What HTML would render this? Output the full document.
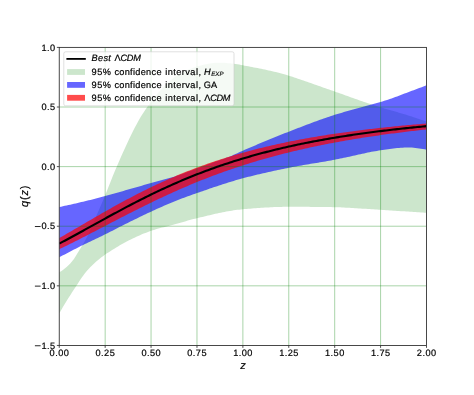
<!DOCTYPE html>
<html><head><meta charset="utf-8"><title>q(z)</title>
<style>html,body{margin:0;padding:0;background:#fff;}body{width:474px;height:395px;overflow:hidden;position:relative;}</style>
</head><body>
<svg width="474" height="395" viewBox="0 0 474 395" style="display:block;font-family:'Liberation Sans',sans-serif">
<rect width="474" height="395" fill="#fff"/>
<defs><clipPath id="ax"><rect x="59.25" y="47.4" width="367.25" height="298.05"/></clipPath></defs>
<g clip-path="url(#ax)">
<path d="M59.25,272.25 L61.09,271.22 L62.92,270.01 L64.76,268.61 L66.59,267.02 L68.43,265.28 L70.27,263.42 L72.10,261.35 L73.94,258.94 L75.78,256.05 L77.61,252.99 L79.45,250.07 L81.28,247.11 L83.12,244.00 L84.96,240.81 L86.79,237.44 L88.63,233.81 L90.47,229.83 L92.30,225.60 L94.14,221.23 L95.97,216.86 L97.81,212.58 L99.65,208.31 L101.48,204.01 L103.32,199.66 L105.16,195.24 L106.99,190.70 L108.83,186.07 L110.67,181.41 L112.50,176.78 L114.34,172.26 L116.17,167.89 L118.01,163.68 L119.85,159.50 L121.68,155.35 L123.52,151.24 L125.36,147.18 L127.19,143.19 L129.03,139.28 L130.86,135.45 L132.70,131.73 L134.54,128.12 L136.37,124.64 L138.21,121.30 L140.05,118.11 L141.88,115.08 L143.72,112.19 L145.55,109.43 L147.39,106.77 L149.23,104.20 L151.06,101.71 L152.90,99.29 L154.74,96.95 L156.57,94.69 L158.41,92.52 L160.24,90.44 L162.08,88.43 L163.92,86.49 L165.75,84.62 L167.59,82.85 L169.43,81.20 L171.26,79.67 L173.10,78.20 L174.93,76.80 L176.77,75.50 L178.61,74.32 L180.44,73.27 L182.28,72.33 L184.12,71.44 L185.95,70.61 L187.79,69.82 L189.62,69.09 L191.46,68.40 L193.30,67.76 L195.13,67.16 L196.97,66.61 L198.81,66.07 L200.64,65.55 L202.48,65.06 L204.31,64.60 L206.15,64.19 L207.99,63.82 L209.82,63.52 L211.66,63.29 L213.50,63.06 L215.33,62.87 L217.17,62.72 L219.00,62.66 L220.84,62.68 L222.68,62.75 L224.51,62.85 L226.35,62.99 L228.19,63.16 L230.02,63.35 L231.86,63.55 L233.69,63.75 L235.53,63.97 L237.37,64.24 L239.20,64.58 L241.04,64.93 L242.88,65.28 L244.71,65.63 L246.55,65.97 L248.38,66.32 L250.22,66.67 L252.06,67.02 L253.89,67.38 L255.73,67.74 L257.57,68.11 L259.40,68.48 L261.24,68.85 L263.07,69.23 L264.91,69.62 L266.75,70.02 L268.58,70.42 L270.42,70.83 L272.25,71.25 L274.09,71.68 L275.93,72.11 L277.76,72.56 L279.60,73.02 L281.44,73.48 L283.27,73.96 L285.11,74.49 L286.94,75.07 L288.78,75.66 L290.62,76.24 L292.45,76.84 L294.29,77.44 L296.13,78.05 L297.96,78.66 L299.80,79.28 L301.63,79.91 L303.47,80.54 L305.31,81.17 L307.14,81.81 L308.98,82.45 L310.82,83.09 L312.65,83.74 L314.49,84.38 L316.33,85.03 L318.16,85.68 L320.00,86.33 L321.83,86.98 L323.67,87.63 L325.51,88.28 L327.34,88.93 L329.18,89.58 L331.01,90.23 L332.85,90.87 L334.69,91.51 L336.52,92.15 L338.36,92.80 L340.20,93.45 L342.03,94.10 L343.87,94.75 L345.70,95.41 L347.54,96.07 L349.38,96.72 L351.21,97.38 L353.05,98.04 L354.89,98.69 L356.72,99.34 L358.56,99.99 L360.40,100.64 L362.23,101.28 L364.07,101.91 L365.90,102.54 L367.74,103.16 L369.58,103.78 L371.41,104.39 L373.25,104.99 L375.08,105.58 L376.92,106.16 L378.76,106.74 L380.59,107.31 L382.43,107.87 L384.27,108.43 L386.10,108.98 L387.94,109.51 L389.78,110.04 L391.61,110.56 L393.45,111.07 L395.28,111.59 L397.12,112.11 L398.96,112.64 L400.79,113.17 L402.63,113.72 L404.47,114.28 L406.30,114.85 L408.14,115.42 L409.97,116.01 L411.81,116.60 L413.65,117.19 L415.48,117.80 L417.32,118.41 L419.15,119.02 L420.99,119.65 L422.83,120.28 L424.66,120.91 L426.50,121.55 L426.50,212.84 L424.66,212.72 L422.83,212.59 L420.99,212.47 L419.15,212.34 L417.32,212.22 L415.48,212.10 L413.65,211.98 L411.81,211.85 L409.97,211.73 L408.14,211.61 L406.30,211.49 L404.47,211.37 L402.63,211.25 L400.79,211.13 L398.96,211.01 L397.12,210.89 L395.28,210.77 L393.45,210.65 L391.61,210.53 L389.78,210.41 L387.94,210.29 L386.10,210.18 L384.27,210.06 L382.43,209.94 L380.59,209.83 L378.76,209.71 L376.92,209.59 L375.08,209.47 L373.25,209.35 L371.41,209.23 L369.58,209.11 L367.74,208.99 L365.90,208.87 L364.07,208.75 L362.23,208.63 L360.40,208.51 L358.56,208.40 L356.72,208.28 L354.89,208.17 L353.05,208.06 L351.21,207.95 L349.38,207.85 L347.54,207.75 L345.70,207.65 L343.87,207.56 L342.03,207.47 L340.20,207.37 L338.36,207.28 L336.52,207.20 L334.69,207.15 L332.85,207.13 L331.01,207.10 L329.18,207.07 L327.34,207.05 L325.51,207.03 L323.67,207.00 L321.83,206.98 L320.00,206.96 L318.16,206.94 L316.33,206.92 L314.49,206.91 L312.65,206.89 L310.82,206.88 L308.98,206.87 L307.14,206.85 L305.31,206.84 L303.47,206.83 L301.63,206.82 L299.80,206.82 L297.96,206.81 L296.13,206.81 L294.29,206.80 L292.45,206.80 L290.62,206.80 L288.78,206.80 L286.94,206.80 L285.11,206.82 L283.27,206.85 L281.44,206.88 L279.60,206.93 L277.76,206.99 L275.93,207.05 L274.09,207.12 L272.25,207.21 L270.42,207.29 L268.58,207.39 L266.75,207.49 L264.91,207.60 L263.07,207.72 L261.24,207.84 L259.40,207.97 L257.57,208.10 L255.73,208.23 L253.89,208.37 L252.06,208.51 L250.22,208.66 L248.38,208.81 L246.55,208.96 L244.71,209.11 L242.88,209.26 L241.04,209.43 L239.20,209.63 L237.37,209.84 L235.53,210.08 L233.69,210.34 L231.86,210.63 L230.02,210.93 L228.19,211.24 L226.35,211.58 L224.51,211.93 L222.68,212.29 L220.84,212.67 L219.00,213.06 L217.17,213.46 L215.33,213.87 L213.50,214.29 L211.66,214.71 L209.82,215.14 L207.99,215.57 L206.15,216.01 L204.31,216.44 L202.48,216.88 L200.64,217.32 L198.81,217.75 L196.97,218.18 L195.13,218.63 L193.30,219.09 L191.46,219.58 L189.62,220.09 L187.79,220.61 L185.95,221.14 L184.12,221.67 L182.28,222.21 L180.44,222.75 L178.61,223.28 L176.77,223.81 L174.93,224.32 L173.10,224.82 L171.26,225.30 L169.43,225.77 L167.59,226.23 L165.75,226.69 L163.92,227.15 L162.08,227.61 L160.24,228.09 L158.41,228.59 L156.57,229.11 L154.74,229.66 L152.90,230.24 L151.06,230.86 L149.23,231.51 L147.39,232.18 L145.55,232.88 L143.72,233.61 L141.88,234.37 L140.05,235.15 L138.21,235.95 L136.37,236.78 L134.54,237.64 L132.70,238.52 L130.86,239.42 L129.03,240.35 L127.19,241.31 L125.36,242.28 L123.52,243.29 L121.68,244.31 L119.85,245.36 L118.01,246.44 L116.17,247.54 L114.34,248.66 L112.50,249.80 L110.67,250.97 L108.83,252.16 L106.99,253.37 L105.16,254.60 L103.32,255.89 L101.48,257.24 L99.65,258.67 L97.81,260.18 L95.97,261.77 L94.14,263.43 L92.30,265.18 L90.47,267.02 L88.63,268.94 L86.79,270.96 L84.96,273.22 L83.12,275.71 L81.28,278.36 L79.45,281.12 L77.61,283.90 L75.78,286.67 L73.94,289.45 L72.10,292.27 L70.27,295.14 L68.43,298.06 L66.59,301.02 L64.76,304.04 L62.92,307.10 L61.09,310.21 L59.25,313.38 Z" fill="#008000" fill-opacity="0.2"/>
<path d="M59.25,207.04 L61.09,206.64 L62.92,206.25 L64.76,205.85 L66.59,205.45 L68.43,205.04 L70.27,204.64 L72.10,204.22 L73.94,203.81 L75.78,203.39 L77.61,202.96 L79.45,202.54 L81.28,202.11 L83.12,201.67 L84.96,201.23 L86.79,200.79 L88.63,200.34 L90.47,199.88 L92.30,199.42 L94.14,198.96 L95.97,198.48 L97.81,198.01 L99.65,197.52 L101.48,197.04 L103.32,196.54 L105.16,196.04 L106.99,195.54 L108.83,195.04 L110.67,194.53 L112.50,194.02 L114.34,193.50 L116.17,192.98 L118.01,192.46 L119.85,191.94 L121.68,191.42 L123.52,190.89 L125.36,190.36 L127.19,189.84 L129.03,189.31 L130.86,188.78 L132.70,188.26 L134.54,187.73 L136.37,187.20 L138.21,186.68 L140.05,186.16 L141.88,185.64 L143.72,185.12 L145.55,184.60 L147.39,184.09 L149.23,183.58 L151.06,183.07 L152.90,182.57 L154.74,182.08 L156.57,181.59 L158.41,181.10 L160.24,180.61 L162.08,180.11 L163.92,179.61 L165.75,179.11 L167.59,178.59 L169.43,178.06 L171.26,177.51 L173.10,176.96 L174.93,176.39 L176.77,175.81 L178.61,175.20 L180.44,174.57 L182.28,173.91 L184.12,173.23 L185.95,172.53 L187.79,171.82 L189.62,171.11 L191.46,170.39 L193.30,169.68 L195.13,168.99 L196.97,168.30 L198.81,167.63 L200.64,166.96 L202.48,166.30 L204.31,165.64 L206.15,164.98 L207.99,164.32 L209.82,163.66 L211.66,163.01 L213.50,162.35 L215.33,161.69 L217.17,161.04 L219.00,160.40 L220.84,159.77 L222.68,159.13 L224.51,158.49 L226.35,157.83 L228.19,157.14 L230.02,156.43 L231.86,155.67 L233.69,154.87 L235.53,154.04 L237.37,153.19 L239.20,152.33 L241.04,151.49 L242.88,150.67 L244.71,149.87 L246.55,149.07 L248.38,148.28 L250.22,147.48 L252.06,146.70 L253.89,145.91 L255.73,145.13 L257.57,144.36 L259.40,143.59 L261.24,142.82 L263.07,142.06 L264.91,141.30 L266.75,140.54 L268.58,139.78 L270.42,139.03 L272.25,138.28 L274.09,137.53 L275.93,136.78 L277.76,136.04 L279.60,135.30 L281.44,134.56 L283.27,133.83 L285.11,133.10 L286.94,132.38 L288.78,131.66 L290.62,130.94 L292.45,130.23 L294.29,129.53 L296.13,128.82 L297.96,128.12 L299.80,127.42 L301.63,126.71 L303.47,126.01 L305.31,125.31 L307.14,124.61 L308.98,123.92 L310.82,123.23 L312.65,122.54 L314.49,121.86 L316.33,121.18 L318.16,120.50 L320.00,119.84 L321.83,119.18 L323.67,118.53 L325.51,117.89 L327.34,117.25 L329.18,116.63 L331.01,116.01 L332.85,115.41 L334.69,114.82 L336.52,114.25 L338.36,113.70 L340.20,113.17 L342.03,112.64 L343.87,112.11 L345.70,111.59 L347.54,111.07 L349.38,110.56 L351.21,110.06 L353.05,109.56 L354.89,109.06 L356.72,108.56 L358.56,108.07 L360.40,107.57 L362.23,107.08 L364.07,106.58 L365.90,106.08 L367.74,105.58 L369.58,105.08 L371.41,104.57 L373.25,104.06 L375.08,103.54 L376.92,103.01 L378.76,102.47 L380.59,101.93 L382.43,101.38 L384.27,100.83 L386.10,100.26 L387.94,99.67 L389.78,99.07 L391.61,98.43 L393.45,97.77 L395.28,97.09 L397.12,96.39 L398.96,95.69 L400.79,95.00 L402.63,94.31 L404.47,93.62 L406.30,92.92 L408.14,92.22 L409.97,91.53 L411.81,90.84 L413.65,90.16 L415.48,89.48 L417.32,88.80 L419.15,88.12 L420.99,87.43 L422.83,86.73 L424.66,86.02 L426.50,85.31 L426.50,149.73 L424.66,149.35 L422.83,149.00 L420.99,148.67 L419.15,148.38 L417.32,148.13 L415.48,147.91 L413.65,147.73 L411.81,147.60 L409.97,147.51 L408.14,147.47 L406.30,147.49 L404.47,147.54 L402.63,147.63 L400.79,147.76 L398.96,147.92 L397.12,148.10 L395.28,148.31 L393.45,148.54 L391.61,148.78 L389.78,149.03 L387.94,149.29 L386.10,149.56 L384.27,149.83 L382.43,150.09 L380.59,150.35 L378.76,150.61 L376.92,150.90 L375.08,151.20 L373.25,151.53 L371.41,151.87 L369.58,152.23 L367.74,152.60 L365.90,152.98 L364.07,153.38 L362.23,153.78 L360.40,154.19 L358.56,154.60 L356.72,155.02 L354.89,155.43 L353.05,155.85 L351.21,156.26 L349.38,156.67 L347.54,157.07 L345.70,157.46 L343.87,157.85 L342.03,158.22 L340.20,158.60 L338.36,158.98 L336.52,159.35 L334.69,159.71 L332.85,160.05 L331.01,160.39 L329.18,160.73 L327.34,161.06 L325.51,161.38 L323.67,161.70 L321.83,162.02 L320.00,162.33 L318.16,162.64 L316.33,162.95 L314.49,163.25 L312.65,163.56 L310.82,163.87 L308.98,164.18 L307.14,164.49 L305.31,164.80 L303.47,165.11 L301.63,165.43 L299.80,165.75 L297.96,166.08 L296.13,166.41 L294.29,166.75 L292.45,167.10 L290.62,167.45 L288.78,167.81 L286.94,168.18 L285.11,168.55 L283.27,168.92 L281.44,169.30 L279.60,169.68 L277.76,170.07 L275.93,170.45 L274.09,170.85 L272.25,171.24 L270.42,171.64 L268.58,172.05 L266.75,172.46 L264.91,172.88 L263.07,173.30 L261.24,173.72 L259.40,174.15 L257.57,174.59 L255.73,175.03 L253.89,175.48 L252.06,175.94 L250.22,176.40 L248.38,176.86 L246.55,177.34 L244.71,177.82 L242.88,178.30 L241.04,178.80 L239.20,179.31 L237.37,179.83 L235.53,180.36 L233.69,180.90 L231.86,181.45 L230.02,182.01 L228.19,182.58 L226.35,183.15 L224.51,183.74 L222.68,184.33 L220.84,184.93 L219.00,185.53 L217.17,186.14 L215.33,186.76 L213.50,187.37 L211.66,188.00 L209.82,188.62 L207.99,189.25 L206.15,189.88 L204.31,190.52 L202.48,191.15 L200.64,191.79 L198.81,192.43 L196.97,193.06 L195.13,193.70 L193.30,194.34 L191.46,194.99 L189.62,195.65 L187.79,196.31 L185.95,196.98 L184.12,197.66 L182.28,198.35 L180.44,199.04 L178.61,199.75 L176.77,200.47 L174.93,201.19 L173.10,201.93 L171.26,202.69 L169.43,203.46 L167.59,204.24 L165.75,205.03 L163.92,205.83 L162.08,206.64 L160.24,207.46 L158.41,208.28 L156.57,209.11 L154.74,209.95 L152.90,210.78 L151.06,211.63 L149.23,212.47 L147.39,213.33 L145.55,214.20 L143.72,215.07 L141.88,215.95 L140.05,216.84 L138.21,217.73 L136.37,218.63 L134.54,219.53 L132.70,220.43 L130.86,221.34 L129.03,222.25 L127.19,223.16 L125.36,224.07 L123.52,225.00 L121.68,225.93 L119.85,226.86 L118.01,227.80 L116.17,228.75 L114.34,229.69 L112.50,230.63 L110.67,231.57 L108.83,232.50 L106.99,233.42 L105.16,234.34 L103.32,235.24 L101.48,236.13 L99.65,237.01 L97.81,237.89 L95.97,238.76 L94.14,239.63 L92.30,240.50 L90.47,241.38 L88.63,242.25 L86.79,243.13 L84.96,244.02 L83.12,244.92 L81.28,245.84 L79.45,246.76 L77.61,247.69 L75.78,248.63 L73.94,249.57 L72.10,250.52 L70.27,251.48 L68.43,252.44 L66.59,253.41 L64.76,254.39 L62.92,255.37 L61.09,256.35 L59.25,257.35 Z" fill="#0000ff" fill-opacity="0.6"/>
<path d="M59.25,238.09 L61.09,237.04 L62.92,235.98 L64.76,234.93 L66.59,233.86 L68.43,232.80 L70.27,231.73 L72.10,230.66 L73.94,229.59 L75.78,228.52 L77.61,227.45 L79.45,226.38 L81.28,225.30 L83.12,224.23 L84.96,223.16 L86.79,222.09 L88.63,221.02 L90.47,219.95 L92.30,218.88 L94.14,217.82 L95.97,216.76 L97.81,215.70 L99.65,214.65 L101.48,213.59 L103.32,212.55 L105.16,211.50 L106.99,210.46 L108.83,209.42 L110.67,208.39 L112.50,207.37 L114.34,206.35 L116.17,205.33 L118.01,204.32 L119.85,203.31 L121.68,202.31 L123.52,201.32 L125.36,200.33 L127.19,199.35 L129.03,198.38 L130.86,197.41 L132.70,196.45 L134.54,195.49 L136.37,194.54 L138.21,193.60 L140.05,192.67 L141.88,191.74 L143.72,190.83 L145.55,189.91 L147.39,189.01 L149.23,188.11 L151.06,187.23 L152.90,186.34 L154.74,185.47 L156.57,184.61 L158.41,183.75 L160.24,182.90 L162.08,182.06 L163.92,181.22 L165.75,180.40 L167.59,179.58 L169.43,178.77 L171.26,177.97 L173.10,177.18 L174.93,176.39 L176.77,175.61 L178.61,174.84 L180.44,174.08 L182.28,173.33 L184.12,172.58 L185.95,171.85 L187.79,171.12 L189.62,170.39 L191.46,169.68 L193.30,168.97 L195.13,168.28 L196.97,167.59 L198.81,166.90 L200.64,166.23 L202.48,165.56 L204.31,164.90 L206.15,164.25 L207.99,163.60 L209.82,162.97 L211.66,162.34 L213.50,161.71 L215.33,161.10 L217.17,160.49 L219.00,159.89 L220.84,159.29 L222.68,158.71 L224.51,158.13 L226.35,157.55 L228.19,156.99 L230.02,156.43 L231.86,155.88 L233.69,155.33 L235.53,154.79 L237.37,154.26 L239.20,153.73 L241.04,153.21 L242.88,152.70 L244.71,152.19 L246.55,151.69 L248.38,151.20 L250.22,150.71 L252.06,150.23 L253.89,149.75 L255.73,149.28 L257.57,148.81 L259.40,148.35 L261.24,147.90 L263.07,147.45 L264.91,147.01 L266.75,146.57 L268.58,146.14 L270.42,145.72 L272.25,145.30 L274.09,144.88 L275.93,144.47 L277.76,144.07 L279.60,143.67 L281.44,143.27 L283.27,142.88 L285.11,142.50 L286.94,142.12 L288.78,141.74 L290.62,141.37 L292.45,141.00 L294.29,140.64 L296.13,140.28 L297.96,139.93 L299.80,139.58 L301.63,139.24 L303.47,138.90 L305.31,138.57 L307.14,138.23 L308.98,137.91 L310.82,137.58 L312.65,137.27 L314.49,136.95 L316.33,136.64 L318.16,136.33 L320.00,136.03 L321.83,135.73 L323.67,135.43 L325.51,135.14 L327.34,134.85 L329.18,134.57 L331.01,134.29 L332.85,134.01 L334.69,133.73 L336.52,133.46 L338.36,133.20 L340.20,132.93 L342.03,132.67 L343.87,132.41 L345.70,132.16 L347.54,131.91 L349.38,131.66 L351.21,131.41 L353.05,131.17 L354.89,130.93 L356.72,130.69 L358.56,130.46 L360.40,130.23 L362.23,130.00 L364.07,129.77 L365.90,129.55 L367.74,129.33 L369.58,129.11 L371.41,128.90 L373.25,128.69 L375.08,128.48 L376.92,128.27 L378.76,128.07 L380.59,127.86 L382.43,127.66 L384.27,127.47 L386.10,127.27 L387.94,127.08 L389.78,126.89 L391.61,126.70 L393.45,126.51 L395.28,126.33 L397.12,126.15 L398.96,125.97 L400.79,125.79 L402.63,125.62 L404.47,125.44 L406.30,125.27 L408.14,125.10 L409.97,124.94 L411.81,124.77 L413.65,124.61 L415.48,124.45 L417.32,124.29 L419.15,124.13 L420.99,123.97 L422.83,123.82 L424.66,123.67 L426.50,123.51 L426.50,129.47 L424.66,129.67 L422.83,129.87 L420.99,130.07 L419.15,130.27 L417.32,130.48 L415.48,130.69 L413.65,130.90 L411.81,131.11 L409.97,131.33 L408.14,131.54 L406.30,131.76 L404.47,131.99 L402.63,132.21 L400.79,132.44 L398.96,132.67 L397.12,132.90 L395.28,133.14 L393.45,133.38 L391.61,133.62 L389.78,133.86 L387.94,134.10 L386.10,134.35 L384.27,134.60 L382.43,134.86 L380.59,135.12 L378.76,135.38 L376.92,135.64 L375.08,135.90 L373.25,136.17 L371.41,136.44 L369.58,136.72 L367.74,137.00 L365.90,137.28 L364.07,137.56 L362.23,137.85 L360.40,138.14 L358.56,138.43 L356.72,138.73 L354.89,139.03 L353.05,139.34 L351.21,139.64 L349.38,139.95 L347.54,140.27 L345.70,140.59 L343.87,140.91 L342.03,141.23 L340.20,141.56 L338.36,141.89 L336.52,142.23 L334.69,142.57 L332.85,142.91 L331.01,143.26 L329.18,143.61 L327.34,143.97 L325.51,144.33 L323.67,144.69 L321.83,145.06 L320.00,145.43 L318.16,145.81 L316.33,146.19 L314.49,146.57 L312.65,146.96 L310.82,147.35 L308.98,147.75 L307.14,148.15 L305.31,148.56 L303.47,148.97 L301.63,149.39 L299.80,149.81 L297.96,150.23 L296.13,150.66 L294.29,151.10 L292.45,151.54 L290.62,151.98 L288.78,152.43 L286.94,152.88 L285.11,153.34 L283.27,153.81 L281.44,154.28 L279.60,154.75 L277.76,155.23 L275.93,155.72 L274.09,156.21 L272.25,156.70 L270.42,157.20 L268.58,157.71 L266.75,158.22 L264.91,158.74 L263.07,159.26 L261.24,159.79 L259.40,160.33 L257.57,160.87 L255.73,161.41 L253.89,161.96 L252.06,162.52 L250.22,163.08 L248.38,163.65 L246.55,164.23 L244.71,164.81 L242.88,165.40 L241.04,165.99 L239.20,166.59 L237.37,167.19 L235.53,167.80 L233.69,168.42 L231.86,169.04 L230.02,169.67 L228.19,170.31 L226.35,170.95 L224.51,171.60 L222.68,172.26 L220.84,172.92 L219.00,173.58 L217.17,174.26 L215.33,174.94 L213.50,175.62 L211.66,176.32 L209.82,177.01 L207.99,177.72 L206.15,178.43 L204.31,179.15 L202.48,179.87 L200.64,180.61 L198.81,181.34 L196.97,182.09 L195.13,182.84 L193.30,183.59 L191.46,184.35 L189.62,185.12 L187.79,185.90 L185.95,186.68 L184.12,187.47 L182.28,188.26 L180.44,189.06 L178.61,189.87 L176.77,190.68 L174.93,191.49 L173.10,192.32 L171.26,193.15 L169.43,193.98 L167.59,194.82 L165.75,195.67 L163.92,196.52 L162.08,197.38 L160.24,198.24 L158.41,199.11 L156.57,199.98 L154.74,200.86 L152.90,201.74 L151.06,202.63 L149.23,203.52 L147.39,204.42 L145.55,205.32 L143.72,206.22 L141.88,207.13 L140.05,208.05 L138.21,208.96 L136.37,209.88 L134.54,210.81 L132.70,211.74 L130.86,212.67 L129.03,213.60 L127.19,214.54 L125.36,215.48 L123.52,216.42 L121.68,217.37 L119.85,218.32 L118.01,219.26 L116.17,220.22 L114.34,221.17 L112.50,222.12 L110.67,223.07 L108.83,224.03 L106.99,224.99 L105.16,225.94 L103.32,226.90 L101.48,227.85 L99.65,228.81 L97.81,229.76 L95.97,230.72 L94.14,231.67 L92.30,232.62 L90.47,233.57 L88.63,234.52 L86.79,235.46 L84.96,236.41 L83.12,237.35 L81.28,238.28 L79.45,239.22 L77.61,240.15 L75.78,241.07 L73.94,241.99 L72.10,242.91 L70.27,243.82 L68.43,244.73 L66.59,245.63 L64.76,246.53 L62.92,247.42 L61.09,248.30 L59.25,249.18 Z" fill="#ff0000" fill-opacity="0.7"/>
<line x1="105.16" x2="105.16" y1="47.4" y2="345.45" stroke="#008000" stroke-opacity="0.34" stroke-width="1"/>
<line x1="151.06" x2="151.06" y1="47.4" y2="345.45" stroke="#008000" stroke-opacity="0.34" stroke-width="1"/>
<line x1="196.97" x2="196.97" y1="47.4" y2="345.45" stroke="#008000" stroke-opacity="0.34" stroke-width="1"/>
<line x1="242.88" x2="242.88" y1="47.4" y2="345.45" stroke="#008000" stroke-opacity="0.34" stroke-width="1"/>
<line x1="288.78" x2="288.78" y1="47.4" y2="345.45" stroke="#008000" stroke-opacity="0.34" stroke-width="1"/>
<line x1="334.69" x2="334.69" y1="47.4" y2="345.45" stroke="#008000" stroke-opacity="0.34" stroke-width="1"/>
<line x1="380.59" x2="380.59" y1="47.4" y2="345.45" stroke="#008000" stroke-opacity="0.34" stroke-width="1"/>
<line x1="59.25" x2="426.5" y1="107.01" y2="107.01" stroke="#008000" stroke-opacity="0.34" stroke-width="1"/>
<line x1="59.25" x2="426.5" y1="166.62" y2="166.62" stroke="#008000" stroke-opacity="0.34" stroke-width="1"/>
<line x1="59.25" x2="426.5" y1="226.23" y2="226.23" stroke="#008000" stroke-opacity="0.34" stroke-width="1"/>
<line x1="59.25" x2="426.5" y1="285.84" y2="285.84" stroke="#008000" stroke-opacity="0.34" stroke-width="1"/>
<path d="M59.25,243.64 L61.09,242.67 L62.92,241.69 L64.76,240.71 L66.59,239.73 L68.43,238.74 L70.27,237.74 L72.10,236.75 L73.94,235.75 L75.78,234.74 L77.61,233.74 L79.45,232.73 L81.28,231.72 L83.12,230.71 L84.96,229.69 L86.79,228.68 L88.63,227.66 L90.47,226.65 L92.30,225.63 L94.14,224.62 L95.97,223.60 L97.81,222.59 L99.65,221.58 L101.48,220.57 L103.32,219.56 L105.16,218.55 L106.99,217.54 L108.83,216.54 L110.67,215.54 L112.50,214.54 L114.34,213.54 L116.17,212.55 L118.01,211.56 L119.85,210.58 L121.68,209.59 L123.52,208.62 L125.36,207.64 L127.19,206.68 L129.03,205.71 L130.86,204.75 L132.70,203.80 L134.54,202.85 L136.37,201.91 L138.21,200.97 L140.05,200.04 L141.88,199.11 L143.72,198.19 L145.55,197.27 L147.39,196.36 L149.23,195.46 L151.06,194.56 L152.90,193.67 L154.74,192.79 L156.57,191.91 L158.41,191.04 L160.24,190.17 L162.08,189.32 L163.92,188.47 L165.75,187.62 L167.59,186.78 L169.43,185.95 L171.26,185.13 L173.10,184.32 L174.93,183.51 L176.77,182.70 L178.61,181.91 L180.44,181.12 L182.28,180.34 L184.12,179.57 L185.95,178.80 L187.79,178.04 L189.62,177.29 L191.46,176.54 L193.30,175.81 L195.13,175.08 L196.97,174.35 L198.81,173.64 L200.64,172.93 L202.48,172.23 L204.31,171.53 L206.15,170.84 L207.99,170.16 L209.82,169.49 L211.66,168.82 L213.50,168.16 L215.33,167.51 L217.17,166.86 L219.00,166.23 L220.84,165.59 L222.68,164.97 L224.51,164.35 L226.35,163.74 L228.19,163.13 L230.02,162.54 L231.86,161.94 L233.69,161.36 L235.53,160.78 L237.37,160.21 L239.20,159.64 L241.04,159.08 L242.88,158.53 L244.71,157.98 L246.55,157.44 L248.38,156.91 L250.22,156.38 L252.06,155.85 L253.89,155.34 L255.73,154.83 L257.57,154.32 L259.40,153.82 L261.24,153.33 L263.07,152.84 L264.91,152.36 L266.75,151.88 L268.58,151.41 L270.42,150.95 L272.25,150.49 L274.09,150.03 L275.93,149.59 L277.76,149.14 L279.60,148.70 L281.44,148.27 L283.27,147.84 L285.11,147.42 L286.94,147.00 L288.78,146.59 L290.62,146.18 L292.45,145.77 L294.29,145.38 L296.13,144.98 L297.96,144.59 L299.80,144.21 L301.63,143.83 L303.47,143.45 L305.31,143.08 L307.14,142.71 L308.98,142.35 L310.82,141.99 L312.65,141.64 L314.49,141.29 L316.33,140.94 L318.16,140.60 L320.00,140.26 L321.83,139.93 L323.67,139.60 L325.51,139.27 L327.34,138.95 L329.18,138.63 L331.01,138.32 L332.85,138.01 L334.69,137.70 L336.52,137.40 L338.36,137.10 L340.20,136.80 L342.03,136.51 L343.87,136.22 L345.70,135.94 L347.54,135.65 L349.38,135.37 L351.21,135.10 L353.05,134.83 L354.89,134.56 L356.72,134.29 L358.56,134.03 L360.40,133.77 L362.23,133.51 L364.07,133.26 L365.90,133.00 L367.74,132.76 L369.58,132.51 L371.41,132.27 L373.25,132.03 L375.08,131.79 L376.92,131.56 L378.76,131.33 L380.59,131.10 L382.43,130.87 L384.27,130.65 L386.10,130.43 L387.94,130.21 L389.78,129.99 L391.61,129.78 L393.45,129.57 L395.28,129.36 L397.12,129.15 L398.96,128.95 L400.79,128.75 L402.63,128.55 L404.47,128.35 L406.30,128.16 L408.14,127.97 L409.97,127.78 L411.81,127.59 L413.65,127.40 L415.48,127.22 L417.32,127.04 L419.15,126.86 L420.99,126.68 L422.83,126.50 L424.66,126.33 L426.50,126.16" fill="none" stroke="#000" stroke-width="2.1"/>
</g>
<line x1="59.25" x2="59.25" y1="345.45" y2="347.84999999999997" stroke="#222" stroke-width="0.8"/>
<line x1="105.16" x2="105.16" y1="345.45" y2="347.84999999999997" stroke="#222" stroke-width="0.8"/>
<line x1="151.06" x2="151.06" y1="345.45" y2="347.84999999999997" stroke="#222" stroke-width="0.8"/>
<line x1="196.97" x2="196.97" y1="345.45" y2="347.84999999999997" stroke="#222" stroke-width="0.8"/>
<line x1="242.88" x2="242.88" y1="345.45" y2="347.84999999999997" stroke="#222" stroke-width="0.8"/>
<line x1="288.78" x2="288.78" y1="345.45" y2="347.84999999999997" stroke="#222" stroke-width="0.8"/>
<line x1="334.69" x2="334.69" y1="345.45" y2="347.84999999999997" stroke="#222" stroke-width="0.8"/>
<line x1="380.59" x2="380.59" y1="345.45" y2="347.84999999999997" stroke="#222" stroke-width="0.8"/>
<line x1="426.50" x2="426.50" y1="345.45" y2="347.84999999999997" stroke="#222" stroke-width="0.8"/>
<line x1="56.85" x2="59.25" y1="345.45" y2="345.45" stroke="#222" stroke-width="0.8"/>
<line x1="56.85" x2="59.25" y1="285.84" y2="285.84" stroke="#222" stroke-width="0.8"/>
<line x1="56.85" x2="59.25" y1="226.23" y2="226.23" stroke="#222" stroke-width="0.8"/>
<line x1="56.85" x2="59.25" y1="166.62" y2="166.62" stroke="#222" stroke-width="0.8"/>
<line x1="56.85" x2="59.25" y1="107.01" y2="107.01" stroke="#222" stroke-width="0.8"/>
<line x1="56.85" x2="59.25" y1="47.40" y2="47.40" stroke="#222" stroke-width="0.8"/>
<rect x="59.25" y="47.4" width="367.25" height="298.05" fill="none" stroke="#303030" stroke-width="0.88"/>
</svg>
<svg width="474" height="395" viewBox="0 0 474 395" style="position:absolute;left:0;top:0;will-change:transform;text-rendering:geometricPrecision;font-family:'Liberation Sans',sans-serif">
<g fill="#000" stroke="#000" stroke-width="0.2">
<text x="59.45" y="356.00" font-size="9.2" text-anchor="middle" letter-spacing="0.45">0.00</text>
<text x="105.36" y="356.00" font-size="9.2" text-anchor="middle" letter-spacing="0.45">0.25</text>
<text x="151.26" y="356.00" font-size="9.2" text-anchor="middle" letter-spacing="0.45">0.50</text>
<text x="197.17" y="356.00" font-size="9.2" text-anchor="middle" letter-spacing="0.45">0.75</text>
<text x="243.07" y="356.00" font-size="9.2" text-anchor="middle" letter-spacing="0.45">1.00</text>
<text x="288.98" y="356.00" font-size="9.2" text-anchor="middle" letter-spacing="0.45">1.25</text>
<text x="334.89" y="356.00" font-size="9.2" text-anchor="middle" letter-spacing="0.45">1.50</text>
<text x="380.79" y="356.00" font-size="9.2" text-anchor="middle" letter-spacing="0.45">1.75</text>
<text x="426.70" y="356.00" font-size="9.2" text-anchor="middle" letter-spacing="0.45">2.00</text>
<text x="55.55" y="348.55" font-size="9.2" text-anchor="end" letter-spacing="0.45">1.5</text>
<line x1="34.9" x2="40.6" y1="345.75" y2="345.75" stroke="#000" stroke-width="0.85"/>
<text x="55.55" y="288.94" font-size="9.2" text-anchor="end" letter-spacing="0.45">1.0</text>
<line x1="34.9" x2="40.6" y1="286.14" y2="286.14" stroke="#000" stroke-width="0.85"/>
<text x="55.55" y="229.33" font-size="9.2" text-anchor="end" letter-spacing="0.45">0.5</text>
<line x1="34.9" x2="40.6" y1="226.53" y2="226.53" stroke="#000" stroke-width="0.85"/>
<text x="55.55" y="169.72" font-size="9.2" text-anchor="end" letter-spacing="0.45">0.0</text>
<text x="55.55" y="110.11" font-size="9.2" text-anchor="end" letter-spacing="0.45">0.5</text>
<text x="55.55" y="50.50" font-size="9.2" text-anchor="end" letter-spacing="0.45">1.0</text>
<text x="242.88" y="368.6" font-size="11" font-style="italic" text-anchor="middle">z</text>
<text transform="translate(28.2,195.92) rotate(-90)" font-size="11" letter-spacing="0.75" text-anchor="middle"><tspan font-style="italic">q</tspan>(<tspan font-style="italic">z</tspan>)</text>
</g>
<rect x="63.8" y="51.8" width="170.2" height="54.0" rx="1.8" fill="#fff" fill-opacity="0.8" stroke="#ccc" stroke-opacity="0.8" stroke-width="0.8"/>
<line x1="66.4" x2="85.8" y1="58.9" y2="58.9" stroke="#000" stroke-width="1.8"/>
<rect x="67.1" y="69.1" width="17.9" height="5.8" fill="#008000" fill-opacity="0.2"/>
<rect x="67.1" y="82.0" width="17.9" height="5.8" fill="#0000ff" fill-opacity="0.6"/>
<rect x="67.1" y="94.9" width="17.9" height="5.8" fill="#ff0000" fill-opacity="0.7"/>
<g fill="#000" stroke="#000" stroke-width="0.2">
<text x="91.6" y="61.3" font-size="9.2" font-style="italic" letter-spacing="0.3">Best</text>
<text x="114.5" y="61.3" font-size="9.2" font-style="italic" letter-spacing="-0.2"><tspan font-style="normal">Λ</tspan>CDM</text>
<text y="74.8" font-size="9.2" letter-spacing="0.45"><tspan x="91.6">95%</tspan><tspan x="114.4" letter-spacing="0.3">confidence</tspan><tspan x="165.2">interval,</tspan></text>
<text y="87.75" font-size="9.2" letter-spacing="0.45"><tspan x="91.6">95%</tspan><tspan x="114.4" letter-spacing="0.3">confidence</tspan><tspan x="165.2">interval,</tspan></text>
<text y="100.6" font-size="9.2" letter-spacing="0.45"><tspan x="91.6">95%</tspan><tspan x="114.4" letter-spacing="0.3">confidence</tspan><tspan x="165.2">interval,</tspan></text>
<text x="204.1" y="74.8" font-size="9.2" font-style="italic">H<tspan font-size="6.1" dy="1.5" dx="0.5" letter-spacing="0.05" stroke-width="0.14">EXP</tspan></text>
<text x="203.79999999999998" y="87.75" font-size="9.2" letter-spacing="0.1">GA</text>
<text x="204.29999999999998" y="100.6" font-size="9.2" font-style="italic" letter-spacing="-0.3"><tspan font-style="normal">Λ</tspan>CDM</text>
</g>
</svg>
</body></html>
